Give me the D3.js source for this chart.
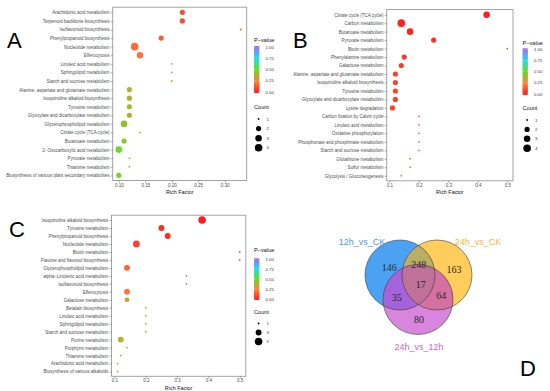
<!DOCTYPE html>
<html><head><meta charset="utf-8">
<script src="https://cdn.jsdelivr.net/npm/d3@7"></script>
<style>body{margin:0;background:#fff} svg{display:block}</style>
</head><body>
<svg id="chart" width="550" height="391"></svg>
<script>
// ---------- Panel A data ----------
const pathwaysA = ["Arachidonic acid metabolism","Terpenoid backbone biosynthesis","Isoflavonoid biosynthesis","Phenylpropanoid biosynthesis","Nucleotide metabolism","Efferocytosis","Linoleic acid metabolism","Sphingolipid metabolism","Starch and sucrose metabolism","Alanine, aspartate and glutamate metabolism","Isoquinoline alkaloid biosynthesis","Tyrosine metabolism","Glyoxylate and dicarboxylate metabolism","Glycerophospholipid metabolism","Citrate cycle (TCA cycle)","Butanoate metabolism","2\u2212Oxocarboxylic acid metabolism","Pyruvate metabolism","Thiamine metabolism","Biosynthesis of various plant secondary metabolites"];
const richA  = [0.22,0.22,0.33,0.18,0.13,0.14,0.20,0.20,0.20,0.12,0.12,0.12,0.12,0.11,0.14,0.11,0.10,0.12,0.12,0.10];
const countA = [2,2,1,2,4,3,1,1,1,2,2,2,2,3,1,2,3,1,1,2];
const pvalA  = [0.12,0.12,0.15,0.16,0.20,0.21,0.30,0.30,0.30,0.39,0.39,0.39,0.39,0.42,0.44,0.45,0.50,0.47,0.47,0.50];
const ticksA = [0.10,0.15,0.20,0.25,0.30];
const countBreaksA = [1,2,3,4];

// ---------- Panel B data ----------
const pathwaysB = ["Citrate cycle (TCA cycle)","Carbon metabolism","Butanoate metabolism","Pyruvate metabolism","Biotin metabolism","Phenylalanine metabolism","Galactose metabolism","Alanine, aspartate and glutamate metabolism","Isoquinoline alkaloid biosynthesis","Tyrosine metabolism","Glyoxylate and dicarboxylate metabolism","Lysine degradation","Carbon fixation by Calvin cycle","Linoleic acid metabolism","Oxidative phosphorylation","Phosphonate and phosphinate metabolism","Starch and sucrose metabolism","Glutathione metabolism","Sulfur metabolism","Glycolysis / Gluconeogenesis"];
const richB  = [0.43,0.14,0.17,0.25,0.50,0.15,0.14,0.12,0.12,0.12,0.12,0.11,0.20,0.20,0.20,0.20,0.20,0.17,0.17,0.14];
const countB = [3,4,3,2,1,2,2,2,2,2,2,2,1,1,1,1,1,1,1,1];
const pvalB  = [0.01,0.02,0.03,0.05,0.12,0.07,0.08,0.09,0.09,0.09,0.09,0.10,0.20,0.20,0.20,0.20,0.20,0.20,0.20,0.22];
const ticksB = [0.1,0.2,0.3,0.4,0.5];
const countBreaksB = [1,2,3,4];

// ---------- Panel C data ----------
const pathwaysC = ["Isoquinoline alkaloid biosynthesis","Tyrosine metabolism","Phenylpropanoid biosynthesis","Nucleotide metabolism","Biotin metabolism","Flavone and flavonol biosynthesis","Glycerophospholipid metabolism","alpha\u2212Linolenic acid metabolism","Isoflavonoid biosynthesis","Efferocytosis","Galactose metabolism","Betalain biosynthesis","Linoleic acid metabolism","Sphingolipid metabolism","Starch and sucrose metabolism","Purine metabolism","Porphyrin metabolism","Thiamine metabolism","Arachidonic acid metabolism","Biosynthesis of various alkaloids"];
const richC  = [0.38,0.25,0.27,0.17,0.50,0.50,0.14,0.33,0.33,0.14,0.14,0.20,0.20,0.20,0.20,0.12,0.14,0.12,0.11,0.11];
const countC = [5,3,3,4,1,1,3,1,1,3,2,1,1,1,1,3,1,1,1,1];
const pvalC  = [0.01,0.04,0.04,0.09,0.12,0.12,0.18,0.16,0.16,0.22,0.33,0.31,0.31,0.31,0.31,0.38,0.48,0.50,0.52,0.52];
const ticksC = [0.1,0.2,0.3,0.4,0.5];
const countBreaksC = [1,3,5];

// ---------- shared legend breaks ----------
const pvalBreaks = [0,0.25,0.5,0.75,1];

// ---------- Venn data ----------
const vennSets = ["12h_vs_CK","24h_vs_CK","24h_vs_12h"];
const vennRegionKeys = ["A","B","C","AB","AC","BC","ABC"];
const vennRegionValues = [146,163,80,248,35,64,17];

// ---------- drawing ----------
const svg = d3.select("#chart");
const FONT = "Liberation Sans, Arial, sans-serif";

const colorScale = d3.scaleLinear()
  .domain([0,0.25,0.5,0.75,1])
  .range(["#ff1a1a","#ff8040","#66dd22","#22ddee","#aa66ee"])
  .interpolate(d3.interpolateRgb);

// gradient for colorbar
const defs = svg.append("defs");
const grad = defs.append("linearGradient").attr("id","pgrad")
  .attr("x1",0).attr("y1",1).attr("x2",0).attr("y2",0);
d3.range(0,1.0001,0.05).forEach(t=>{
  grad.append("stop").attr("offset",t).attr("stop-color",colorScale(t));
});

function dotPanel(cfg){
  const g = svg.append("g");
  const ext = d3.extent(cfg.rich);
  const pad = (ext[1]-ext[0])*0.05;
  const x = d3.scaleLinear().domain([ext[0]-pad, ext[1]+pad]).range([cfg.x0,cfg.x1]);
  const y = d3.scalePoint().domain(cfg.names).range([cfg.y0,cfg.y1]).padding(0.6);
  const cmin = d3.min(cfg.countBreaks), cmax = d3.max(cfg.countBreaks);
  const rs = d3.scaleSqrt().domain([0,cmax-cmin]).range([0.9,3.8]);
  const r = c => rs(c-cmin);

  // border
  g.append("rect").attr("x",cfg.x0).attr("y",cfg.y0).attr("width",cfg.x1-cfg.x0).attr("height",cfg.y1-cfg.y0)
    .attr("fill","none").attr("stroke","#9a9a9a").attr("stroke-width",0.9);

  // points
  const data = cfg.names.map((n,i)=>({n, x:cfg.rich[i], c:cfg.count[i], p:cfg.pval[i]}));
  g.selectAll("circle.pt").data(data).join("circle").attr("class","pt")
    .attr("cx",d=>x(d.x)).attr("cy",d=>y(d.n)).attr("r",d=>r(d.c))
    .attr("fill",d=>colorScale(d.p));

  // axes
  const ya = g.append("g").attr("transform",`translate(${cfg.x0},0)`)
    .call(d3.axisLeft(y).tickSize(2).tickPadding(1.2));
  const xa = g.append("g").attr("transform",`translate(0,${cfg.y1})`)
    .call(d3.axisBottom(x).tickValues(cfg.ticks).tickFormat(d3.format(cfg.fmt)).tickSize(2).tickPadding(1));
  [ya,xa].forEach(a=>{
    a.select(".domain").remove();
    a.selectAll(".tick line").attr("stroke","#555").attr("stroke-width",0.5);
    a.selectAll(".tick text").attr("fill","#4d4d4d").style("font-family",FONT).style("font-size","4.5px");
  });
  g.append("text").attr("x",(cfg.x0+cfg.x1)/2).attr("y",cfg.y1+13.3)
    .attr("text-anchor","middle").style("font-family",FONT).style("font-size","5.4px").attr("fill","#111")
    .text("Rich Factor");

  // legend
  const L = cfg.leg;
  g.append("text").attr("x",L.x).attr("y",L.titleY).style("font-family",FONT).style("font-size","5.6px").attr("fill","#111").text("P\u2212value");
  g.append("rect").attr("x",L.x).attr("y",L.barTop).attr("width",5.4).attr("height",L.barBot-L.barTop).attr("fill","url(#pgrad)");
  const py = d3.scaleLinear().domain([0,1]).range([L.barBot-1,L.barTop+1]);
  pvalBreaks.forEach(b=>{
    g.append("line").attr("x1",L.x).attr("x2",L.x+1.1).attr("y1",py(b)).attr("y2",py(b)).attr("stroke","#fff").attr("stroke-width",0.5);
    g.append("line").attr("x1",L.x+4.3).attr("x2",L.x+5.4).attr("y1",py(b)).attr("y2",py(b)).attr("stroke","#fff").attr("stroke-width",0.5);
    g.append("text").attr("x",L.x+11.5).attr("y",py(b)).attr("dy","0.35em").style("font-family",FONT).style("font-size","4.3px").attr("fill","#333").text(d3.format(".2f")(b));
  });
  g.append("text").attr("x",L.x).attr("y",L.countY).style("font-family",FONT).style("font-size","5.6px").attr("fill","#111").text("Count");
  cfg.countBreaks.forEach((c,i)=>{
    const cy = L.countY+10+i*L.step;
    g.append("circle").attr("cx",L.x+4.6).attr("cy",cy).attr("r",r(c)).attr("fill","#000");
    g.append("text").attr("x",L.x+12.5).attr("y",cy).attr("dy","0.35em").style("font-family",FONT).style("font-size","4.3px").attr("fill","#333").text(c);
  });
}

dotPanel({names:pathwaysA,rich:richA,count:countA,pval:pvalA,ticks:ticksA,fmt:".2f",countBreaks:countBreaksA,
  x0:112.7,x1:246.7,y0:7.2,y1:180.5,
  leg:{x:254,titleY:42,barTop:46,barBot:93,countY:109,step:9.6}});
dotPanel({names:pathwaysB,rich:richB,count:countB,pval:pvalB,ticks:ticksB,fmt:".1f",countBreaks:countBreaksB,
  x0:386.7,x1:513,y0:9.6,y1:180.8,
  leg:{x:522.5,titleY:44.5,barTop:48.3,barBot:95,countY:110,step:9.4}});
dotPanel({names:pathwaysC,rich:richC,count:countC,pval:pvalC,ticks:ticksC,fmt:".1f",countBreaks:countBreaksC,
  x0:111.5,x1:245.8,y0:215.2,y1:376.3,
  leg:{x:254,titleY:252,barTop:258.3,barBot:300,countY:313.5,step:9}});

// panel letters
[["A",7,48],["B",293,48],["C",9,237],["D",520,376]].forEach(([t,x,y])=>{
  svg.append("text").attr("x",x).attr("y",y).style("font-family",FONT).style("font-size","22px").attr("fill","#000").text(t);
});

// ---------- Venn ----------
const vg = svg.append("g");
const circ = {A:{cx:400,cy:275,r:35}, B:{cx:437,cy:275,r:35}, C:{cx:418,cy:299.5,r:35}};
const regionColor = {A:"#4ca2f2",B:"#ffcd5c",C:"#d885de",AB:"#b8ae64",AC:"#a463da",BC:"#d670a0",ABC:"#bf7199"};
defs.append("clipPath").attr("id","clipA").append("circle").attr("cx",circ.A.cx).attr("cy",circ.A.cy).attr("r",circ.A.r);
defs.append("clipPath").attr("id","clipB").append("circle").attr("cx",circ.B.cx).attr("cy",circ.B.cy).attr("r",circ.B.r);
defs.append("clipPath").attr("id","clipAB").attr("clip-path","url(#clipA)")
  .append("circle").attr("cx",circ.B.cx).attr("cy",circ.B.cy).attr("r",circ.B.r);
function vc(k,fill,clip){
  const c = vg.append("circle").attr("cx",circ[k].cx).attr("cy",circ[k].cy).attr("r",circ[k].r).attr("fill",fill);
  if(clip) c.attr("clip-path",`url(#${clip})`);
}
vc("A",regionColor.A); vc("B",regionColor.B); vc("C",regionColor.C);
vc("B",regionColor.AB,"clipA"); vc("C",regionColor.AC,"clipA"); vc("C",regionColor.BC,"clipB"); vc("C",regionColor.ABC,"clipAB");
["A","B","C"].forEach(k=>{
  vg.append("circle").attr("cx",circ[k].cx).attr("cy",circ[k].cy).attr("r",circ[k].r)
    .attr("fill","none").attr("stroke","#3a3a3a").attr("stroke-opacity",0.75).attr("stroke-width",0.8);
});
const regionPos = {A:[389.3,267.7],B:[454,269.3],C:[419,319.3],AB:[418.7,264],AC:[396.7,297.7],BC:[441.3,295],ABC:[420.7,284.3]};
vennRegionKeys.forEach((k,i)=>{
  vg.append("text").attr("x",regionPos[k][0]).attr("y",regionPos[k][1]).attr("dy","0.35em").attr("text-anchor","middle")
    .style("font-family","Liberation Serif, Times New Roman, serif").style("font-size","10px").attr("fill","#2a2a2a")
    .text(vennRegionValues[i]);
});
const setLabel = [[362,244.5,"#3f9cf0"],[478,244.5,"#f6b83a"],[419,350,"#d062d0"]];
vennSets.forEach((s,i)=>{
  vg.append("text").attr("x",setLabel[i][0]).attr("y",setLabel[i][1]).attr("text-anchor","middle")
    .style("font-family",FONT).style("font-size","9px").attr("fill",setLabel[i][2]).text(s);
});
</script>
</body></html>
